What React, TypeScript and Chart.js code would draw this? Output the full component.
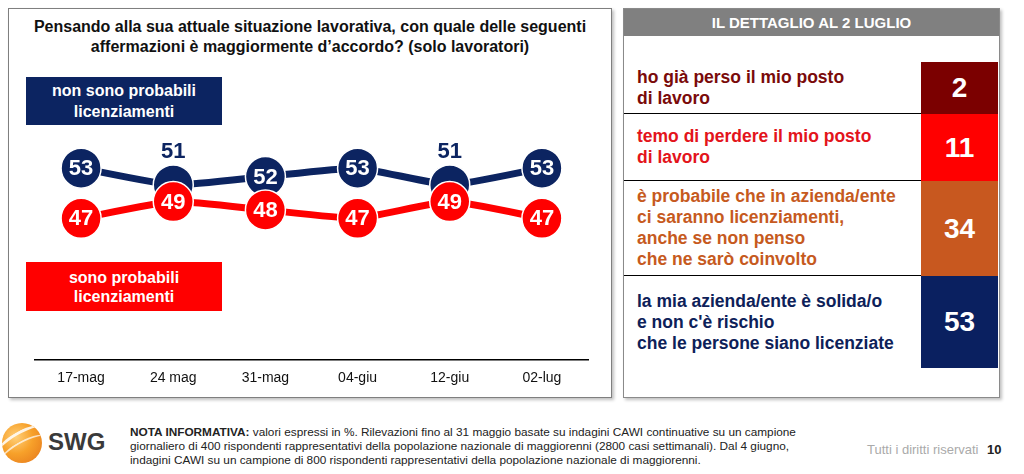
import React, { useEffect, useRef } from "react";
import { Chart, registerables } from "chart.js";

Chart.register(...registerables);

// ---------- data ----------
const categories = ["17-mag", "24 mag", "31-mag", "04-giu", "12-giu", "02-lug"];
const nonProbabili = [53, 51, 52, 53, 51, 53];
const probabili = [47, 49, 48, 47, 49, 47];

const titleLines = [
  "Pensando alla sua attuale situazione lavorativa, con quale delle seguenti",
  "affermazioni è maggiormente d\u2019accordo? (solo lavoratori)",
];
const legendNon = ["non sono probabili", "licenziamenti"];
const legendSono = ["sono probabili", "licenziamenti"];

const detailHeader = "IL DETTAGLIO AL 2 LUGLIO";
const detailLabels = [
  ["ho già perso il mio posto", "di lavoro"],
  ["temo di perdere il mio posto", "di lavoro"],
  ["è probabile che in azienda/ente", "ci saranno licenziamenti,", "anche se non penso", "che ne sarò coinvolto"],
  ["la mia azienda/ente è solida/o", "e non c'è rischio", "che le persone siano licenziate"],
];
const detailValues = [2, 11, 34, 53];

const noteLines = [
  "valori espressi in %. Rilevazioni fino al 31 maggio basate su indagini CAWI continuative su un campione",
  "giornaliero di 400 rispondenti rappresentativi della popolazione nazionale di maggiorenni (2800 casi settimanali). Dal 4 giugno,",
  "indagini CAWI su un campione di 800 rispondenti rappresentativi della popolazione nazionale di maggiorenni.",
];

// ---------- styles ----------
const NAVY = "#0C2461";
const RED = "#FF0000";
const detailTextColors = ["#7A0A0A", "#E3141B", "#C65A1E", "#0D2159"];
const detailBoxColors = ["#7B0000", "#FF0000", "#C8581F", "#0A2060"];
const detailRowHeights = [52, 67, 95, 92];
const FONT = '"Liberation Sans", Arial, Helvetica, sans-serif';

const labelPlugin = {
  id: "pointLabels",
  afterDatasetsDraw(chart: any) {
    const ctx = chart.ctx;
    ctx.save();
    ctx.textAlign = "center";
    ctx.textBaseline = "middle";
    ctx.font = `bold 22px ${FONT}`;
    chart.data.datasets.forEach((ds: any, di: number) => {
      const meta = chart.getDatasetMeta(di);
      meta.data.forEach((pt: any, i: number) => {
        const v = ds.data[i];
        if (ds.label === "non") {
          const other = probabili[i];
          if (v - other < 3) {
            ctx.fillStyle = NAVY;
            ctx.fillText(String(v), pt.x, pt.y - 33);
            return;
          }
        }
        ctx.fillStyle = "#ffffff";
        ctx.fillText(String(v), pt.x, pt.y + 1);
      });
    });
    ctx.restore();
  },
};

function LineChart() {
  const ref = useRef<HTMLCanvasElement | null>(null);
  useEffect(() => {
    if (!ref.current) return;
    const chart = new Chart(ref.current, {
      type: "line",
      data: {
        labels: categories,
        datasets: [
          {
            label: "sono",
            data: probabili,
            borderColor: RED,
            backgroundColor: RED,
            borderWidth: 7,
            pointRadius: 20,
            pointHoverRadius: 20,
            pointBackgroundColor: RED,
            pointBorderColor: "#ffffff",
            pointBorderWidth: 1.5,
            tension: 0.15,
            order: 0,
          },
          {
            label: "non",
            data: nonProbabili,
            borderColor: NAVY,
            backgroundColor: NAVY,
            borderWidth: 7,
            pointRadius: 20,
            pointHoverRadius: 20,
            pointBackgroundColor: NAVY,
            pointBorderColor: "#ffffff",
            pointBorderWidth: 1.5,
            tension: 0.15,
            order: 1,
          },
        ],
      },
      options: {
        responsive: false,
        animation: false,
        layout: { padding: { left: 35, right: 24, top: 68, bottom: 0 } },
        plugins: { legend: { display: false }, tooltip: { enabled: false }, title: { display: false } },
        scales: {
          x: {
            type: "category",
            offset: true,
            grid: { display: false, drawTicks: false },
            border: { display: true, color: "#000000", width: 1.5 },
            ticks: { color: "#111111", padding: 10, font: { family: FONT, size: 14 } },
          },
          y: { display: false, min: 30, max: 65 },
        },
      },
      plugins: [labelPlugin],
    } as any);
    return () => chart.destroy();
  }, []);
  return (
    <canvas
      ref={ref}
      width={612}
      height={397}
      style={{ position: "absolute", left: 0, top: 0, width: 612, height: 397 }}
    />
  );
}

function Logo() {
  return (
    <div style={{ position: "absolute", left: 2, top: 423, width: 42, height: 42 }}>
      <div
        style={{
          position: "absolute",
          left: 0,
          top: 0,
          width: 40,
          height: 40,
          borderRadius: "50%",
          overflow: "hidden",
          background: "radial-gradient(circle at 35% 35%, #ffd07a 0%, #f7a12a 45%, #e4741a 100%)",
        }}
      >
        <div
          style={{
            position: "absolute",
            left: -10,
            top: 8,
            width: 60,
            height: 22,
            borderRadius: "50%",
            borderTop: "3px solid rgba(255,255,255,0.85)",
            transform: "rotate(-30deg)",
          }}
        />
        <div
          style={{
            position: "absolute",
            left: -8,
            top: 18,
            width: 60,
            height: 22,
            borderRadius: "50%",
            borderTop: "2px solid rgba(255,255,255,0.7)",
            transform: "rotate(-30deg)",
          }}
        />
      </div>
    </div>
  );
}

export default function App() {
  return (
    <div
      style={{
        position: "absolute",
        left: 0,
        top: 0,
        width: 1024,
        height: 474,
        background: "#ffffff",
        overflow: "hidden",
        fontFamily: FONT,
      }}
    >
      {/* left panel */}
      <div
        style={{
          position: "absolute",
          left: 8,
          top: 8,
          width: 602,
          height: 388,
          border: "1px solid #7f7f7f",
          boxShadow: "2px 2px 3px rgba(0,0,0,0.25)",
          background: "#fff",
        }}
      />
      <div
        style={{
          position: "absolute",
          left: 8,
          top: 17,
          width: 604,
          textAlign: "center",
          fontWeight: "bold",
          fontSize: 16,
          lineHeight: "20px",
          color: "#111",
        }}
      >
        {titleLines.map((t, i) => (
          <div key={i}>{t}</div>
        ))}
      </div>
      <div
        style={{
          position: "absolute",
          left: 26,
          top: 77,
          width: 196,
          height: 48,
          background: NAVY,
          color: "#fff",
          fontWeight: "bold",
          fontSize: 16,
          lineHeight: "21px",
          display: "flex",
          flexDirection: "column",
          alignItems: "center",
          justifyContent: "center",
        }}
      >
        {legendNon.map((t, i) => (
          <div key={i}>{t}</div>
        ))}
      </div>
      <div
        style={{
          position: "absolute",
          left: 26,
          top: 262,
          width: 196,
          height: 49,
          background: RED,
          color: "#fff",
          fontWeight: "bold",
          fontSize: 16,
          lineHeight: "19px",
          display: "flex",
          flexDirection: "column",
          alignItems: "center",
          justifyContent: "center",
        }}
      >
        {legendSono.map((t, i) => (
          <div key={i}>{t}</div>
        ))}
      </div>
      <LineChart />

      {/* right panel */}
      <div
        style={{
          position: "absolute",
          left: 623,
          top: 8,
          width: 375,
          height: 388,
          border: "1px solid #8a8a8a",
          boxShadow: "2px 2px 3px rgba(0,0,0,0.25)",
          background: "#fff",
        }}
      >
        <div
          style={{
            height: 27,
            background: "#808080",
            color: "#fff",
            fontWeight: "bold",
            fontSize: 15,
            display: "flex",
            alignItems: "center",
            justifyContent: "center",
          }}
        >
          {detailHeader}
        </div>
        <div style={{ height: 26 }} />
        {detailLabels.map((lines, i) => (
          <div key={i} style={{ display: "flex", height: detailRowHeights[i] }}>
            <div
              style={{
                width: 297,
                paddingLeft: 13,
                display: "flex",
                flexDirection: "column",
                justifyContent: "center",
                color: detailTextColors[i],
                fontWeight: "bold",
                fontSize: 17.5,
                lineHeight: "21px",
                borderBottom: i < detailLabels.length - 1 ? "1px solid #000" : "none",
                boxSizing: "border-box",
                whiteSpace: "nowrap",
              }}
            >
              {lines.map((t, j) => (
                <div key={j}>{t}</div>
              ))}
            </div>
            <div
              style={{
                width: 77,
                background: detailBoxColors[i],
                color: "#fff",
                fontWeight: "bold",
                fontSize: 28,
                display: "flex",
                alignItems: "center",
                justifyContent: "center",
              }}
            >
              {detailValues[i]}
            </div>
          </div>
        ))}
      </div>

      {/* footer */}
      <Logo />
      <div
        style={{
          position: "absolute",
          left: 48,
          top: 428,
          fontSize: 24,
          fontWeight: "bold",
          color: "#3a3a3a",
          lineHeight: "28px",
        }}
      >
        SWG
      </div>
      <div
        style={{
          position: "absolute",
          left: 130,
          top: 425,
          fontSize: 11.8,
          lineHeight: "14px",
          color: "#222",
          whiteSpace: "nowrap",
        }}
      >
        <div>
          <b>NOTA INFORMATIVA:</b> {noteLines[0]}
        </div>
        <div>{noteLines[1]}</div>
        <div>{noteLines[2]}</div>
      </div>
      <div
        style={{
          position: "absolute",
          left: 867,
          top: 443,
          fontSize: 13,
          color: "#aaaaaa",
          lineHeight: "14px",
          whiteSpace: "nowrap",
        }}
      >
        Tutti i diritti riservati
      </div>
      <div
        style={{
          position: "absolute",
          left: 987,
          top: 442,
          fontSize: 13,
          fontWeight: "bold",
          color: "#222",
          lineHeight: "15px",
        }}
      >
        10
      </div>
    </div>
  );
}
